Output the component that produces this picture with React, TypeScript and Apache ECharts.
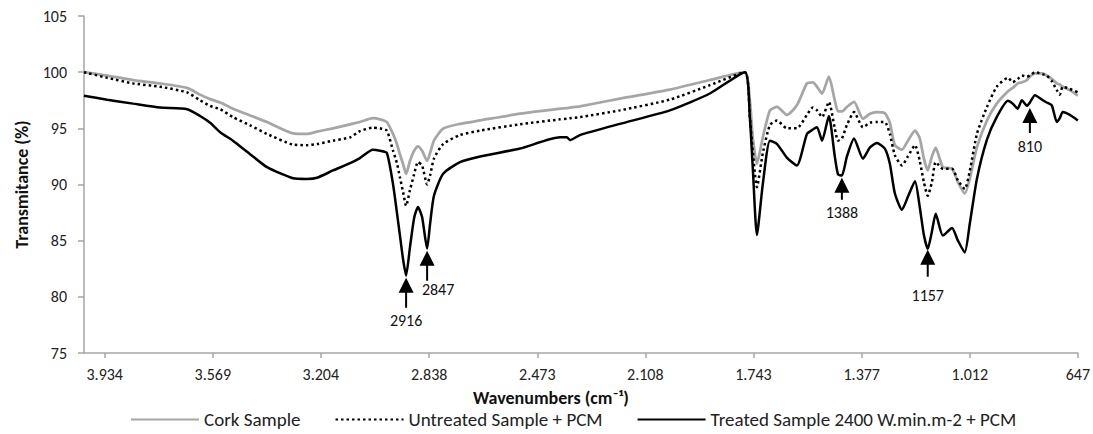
import React, { useEffect, useRef } from "react";
import * as echarts from "echarts";

// Wavenumber (cm-1) positions of the sampled points (left to right)
const WAVENUMBERS = [
  4004, 3926, 3838, 3747, 3656, 3612, 3578, 3544, 3501, 3443,
  3386, 3298, 3251, 3217, 3163, 3105, 3072, 3028, 3004, 2981,
  2960, 2947, 2937, 2926, 2916, 2903, 2889, 2876, 2862, 2845,
  2835, 2822, 2791, 2734, 2666, 2531, 2396, 2373, 2362, 2329,
  2194, 2025, 1890, 1772, 1755, 1745, 1731, 1711, 1687, 1663,
  1630, 1596, 1562, 1542, 1528, 1511, 1488, 1468, 1457, 1444,
  1427, 1403, 1373, 1349, 1326, 1299, 1282, 1265, 1241, 1221,
  1197, 1181, 1167, 1154, 1140, 1127, 1103, 1072, 1052, 1029,
  1012, 988, 954, 921, 883, 867, 850, 836, 819, 809,
  792, 765, 752, 735, 718, 708, 698, 674, 647,
];

const CORK = [
  100.0, 99.7, 99.3, 99.0, 98.6, 98.0, 97.6, 97.3, 96.75, 96.15,
  95.56, 94.55, 94.5, 94.7, 95.0, 95.36, 95.56, 95.9, 95.8, 95.56,
  94.5, 93.6, 92.7, 91.8, 90.95, 92.1, 93.0, 93.4, 93.0, 92.1,
  92.8, 93.9, 94.97, 95.4, 95.7, 96.3, 96.75, 96.8, 96.85, 96.95,
  97.65, 98.45, 99.3, 100.0, 97.5, 94.2, 91.85, 94.2, 96.6, 96.9,
  96.2, 97.05, 99.0, 99.1, 98.7, 98.1, 99.6, 97.5, 96.5, 96.5,
  96.9, 97.35, 95.86, 96.3, 96.45, 96.35, 95.5, 93.5, 93.1, 93.9,
  94.8, 94.1, 92.3, 91.25, 92.5, 93.25, 91.55, 91.4, 90.2, 89.2,
  90.5, 93.3, 95.7, 97.2, 98.3, 98.6, 99.0, 99.1, 99.3, 99.6,
  99.9, 99.9, 99.7, 99.4, 99.0, 98.9, 98.7, 98.4, 97.9,
];

const UNTREATED = [
  100.0, 99.5, 99.0, 98.7, 98.2, 97.5, 97.0, 96.7, 96.0, 95.27,
  94.5, 93.55, 93.5, 93.6, 93.9, 94.2, 94.75, 95.06, 95.0, 94.8,
  93.0, 91.9, 90.65, 89.3, 88.1, 89.5, 90.9, 92.0, 91.7, 90.0,
  90.8, 92.3, 93.6, 94.4, 94.8, 95.36, 95.8, 95.85, 95.9, 96.0,
  96.6, 97.56, 98.84, 100.0, 96.0, 93.0, 89.76, 92.8, 95.3, 95.7,
  95.0, 95.0, 96.2, 96.85, 96.6, 96.0, 97.35, 95.0, 93.9, 94.1,
  95.3, 96.45, 95.1, 95.5, 95.56, 95.56, 94.5, 92.6, 91.7, 92.5,
  93.5, 92.1, 90.2, 89.0, 90.2, 92.0, 91.4, 91.4, 90.36, 89.6,
  91.2, 94.5, 96.9, 98.7, 99.5, 99.1, 99.4, 99.7, 99.6, 99.7,
  100.0, 99.8, 99.7, 99.2, 98.4, 98.0, 98.7, 98.5, 98.2,
];

const TREATED = [
  97.9, 97.55, 97.2, 96.85, 96.7, 96.1, 95.5, 94.65, 93.9, 92.7,
  91.55, 90.56, 90.5, 90.6, 91.25, 91.9, 92.35, 93.1, 93.0, 92.8,
  90.0, 87.5, 85.5, 83.3, 81.9, 84.4, 87.0, 88.0, 87.1, 84.3,
  86.5, 89.0, 90.95, 92.0, 92.5, 93.2, 94.2, 94.2, 93.95, 94.4,
  95.4, 96.6, 98.1, 100.0, 96.0, 91.5, 85.5, 90.06, 93.9, 93.6,
  92.4, 91.7, 94.5, 94.9, 95.1, 93.9, 96.1, 92.5, 90.9, 90.8,
  92.5, 94.1, 92.3, 93.3, 93.7, 93.2, 91.85, 89.2, 87.75, 88.9,
  90.3, 88.0, 85.5, 84.26, 85.8, 87.4, 85.45, 86.13, 85.0, 83.95,
  86.5, 90.5, 94.0, 96.0, 97.45, 97.2, 96.75, 97.5, 97.0, 97.3,
  97.95, 97.5, 97.3, 97.05, 95.56, 95.9, 96.45, 96.2, 95.7,
];

const X_TICKS = [3934, 3569, 3204, 2838, 2473, 2108, 1743, 1377, 1012, 647];
const X_MIN = 647;
const X_MAX = 4004;
const Y_MIN = 75;
const Y_MAX = 105;
const Y_STEP = 5;

const SERIES_NAMES = [
  "Cork Sample",
  "Untreated Sample + PCM",
  "Treated Sample 2400 W.min.m-2 + PCM",
];

// Peak annotations (arrow tip position and label text)
const PEAK_LABELS = ["2916", "2847", "1388", "1157", "810"];
const PEAK_X = [2916, 2845, 1444, 1154, 809];
const PEAK_Y = [81.7, 84.1, 90.6, 84.2, 96.8];

const FONT = "Carlito, Calibri, Lato, sans-serif";

function arrowPath(h: number) {
  return `path://M7.5,0 L15,15 L8.5,15 L8.5,${h} L6.5,${h} L6.5,15 L0,15 Z`;
}

function fmtWave(v: number) {
  return String(Math.round(v)).replace(/\B(?=(\d{3})+(?!\d))/g, ".");
}

export default function App() {
  const ref = useRef<HTMLDivElement>(null);

  useEffect(() => {
    if (!ref.current) return;
    const chart = echarts.init(ref.current, null, { renderer: "svg" });

    const arrowHeights = [30, 30, 22, 27, 25];
    const labelOffsets = [[0, 0], [11, -4], [0, 0], [0, 6], [0, 0]];

    const option: any = {
      animation: false,
      backgroundColor: "#ffffff",
      textStyle: { fontFamily: FONT },
      grid: { left: 84, right: 15, top: 16, bottom: 81 },
      legend: {
        left: 130,
        top: 410,
        padding: 0,
        itemWidth: 68,
        itemHeight: 14,
        itemGap: 34,
        itemStyle: { opacity: 0 },
        textStyle: { fontFamily: FONT, fontSize: 19, color: "#222", lineHeight: 19 },
        data: SERIES_NAMES,
      },
      xAxis: {
        type: "value",
        inverse: true,
        min: X_MIN,
        max: X_MAX,
        name: "Wavenumbers (cm⁻¹)",
        nameLocation: "middle",
        nameGap: 36,
        nameTextStyle: {
          fontFamily: FONT,
          fontSize: 18,
          fontWeight: "bold",
          color: "#111",
          lineHeight: 18,
          padding: [0, 60, 0, 0],
        },
        axisLine: { show: true, lineStyle: { color: "#A6A6A6", width: 1.5 } },
        axisTick: {
          show: true,
          length: 5,
          customValues: X_TICKS,
          lineStyle: { color: "#A6A6A6", width: 1.5 },
        },
        axisLabel: {
          customValues: X_TICKS,
          formatter: (v: number) => fmtWave(v),
          fontFamily: FONT,
          fontSize: 16,
          color: "#222",
          margin: 13,
        },
        splitLine: { show: false },
      },
      yAxis: {
        type: "value",
        min: Y_MIN,
        max: Y_MAX,
        interval: Y_STEP,
        name: "Transmitance (%)",
        nameLocation: "middle",
        nameGap: 53,
        nameTextStyle: {
          fontFamily: FONT,
          fontSize: 18,
          fontWeight: "bold",
          color: "#111",
        },
        axisLine: { show: true, lineStyle: { color: "#A6A6A6", width: 1.5 } },
        axisTick: { show: true, length: 6, lineStyle: { color: "#A6A6A6", width: 1.5 } },
        axisLabel: { fontFamily: FONT, fontSize: 16, color: "#222", margin: 17 },
        splitLine: { show: false },
      },
      series: [
        {
          name: SERIES_NAMES[0],
          type: "line",
          data: WAVENUMBERS.map((w, i) => [w, CORK[i]]),
          showSymbol: false,
          symbol: "none",
          smooth: 0.2,
          lineStyle: { color: "#A6A6A6", width: 2.75 },
          itemStyle: { color: "#A6A6A6" },
          z: 2,
        },
        {
          name: SERIES_NAMES[1],
          type: "line",
          data: WAVENUMBERS.map((w, i) => [w, UNTREATED[i]]),
          showSymbol: false,
          symbol: "none",
          smooth: 0.2,
          lineStyle: { color: "#000000", width: 2.5, type: [2.5, 3] },
          itemStyle: { color: "#000000" },
          z: 3,
        },
        {
          name: SERIES_NAMES[2],
          type: "line",
          data: WAVENUMBERS.map((w, i) => [w, TREATED[i]]),
          showSymbol: false,
          symbol: "none",
          smooth: 0.2,
          lineStyle: { color: "#000000", width: 2.5 },
          itemStyle: { color: "#000000" },
          z: 4,
          markPoint: {
            silent: true,
            data: PEAK_LABELS.map((lab, i) => ({
              name: lab,
              coord: [PEAK_X[i], PEAK_Y[i]],
              symbol: arrowPath(arrowHeights[i]),
              symbolSize: [15, arrowHeights[i]],
              symbolOffset: [0, "50%"],
              itemStyle: { color: "#000000" },
              label: {
                show: true,
                formatter: lab,
                position: "bottom",
                distance: 5,
                offset: labelOffsets[i],
                fontFamily: FONT,
                fontSize: 16,
                color: "#111",
              },
            })),
          },
        },
      ],
    };

    chart.setOption(option);
    return () => chart.dispose();
  }, []);

  return (
    <div
      ref={ref}
      style={{ position: "fixed", left: 0, top: 0, width: 1093, height: 434 }}
    />
  );
}
